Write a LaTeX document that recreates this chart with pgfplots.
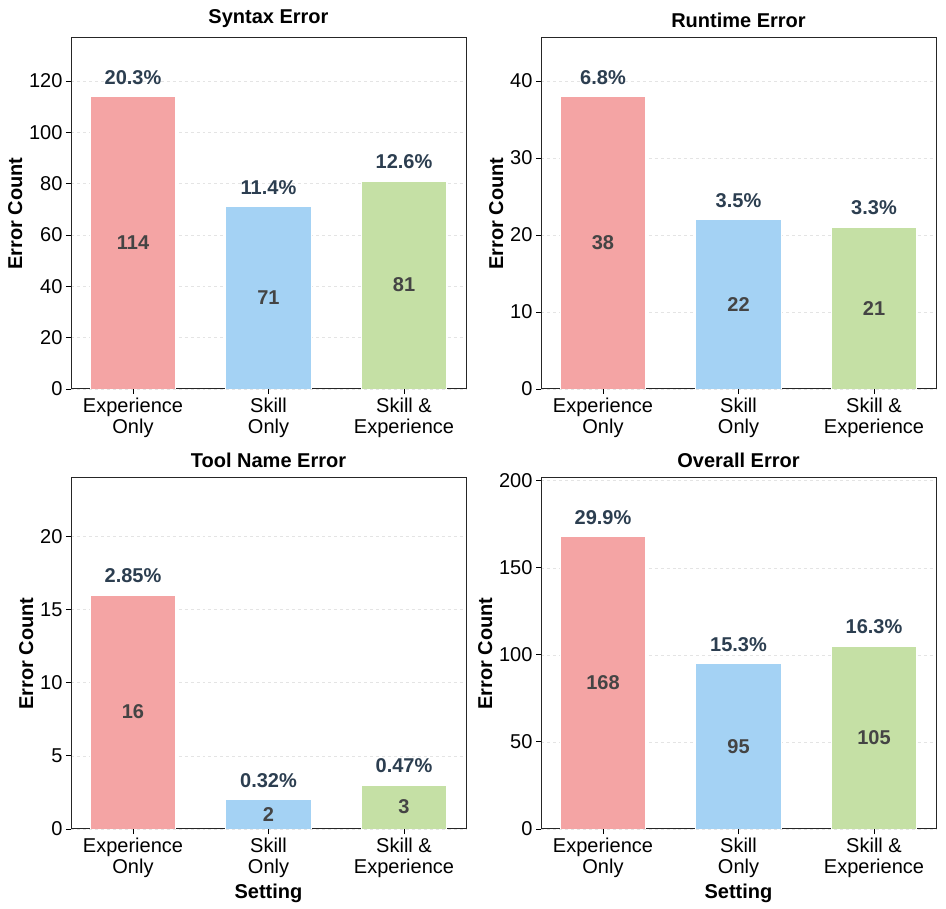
\documentclass[border=0pt]{standalone}
\usepackage{pgfplots}
\pgfplotsset{compat=1.18}
\usepackage{pgfplotstable}
\usepackage{fontspec}
\setmainfont{Liberation Sans}

\definecolor{expc}{RGB}{244,164,164}
\definecolor{skic}{RGB}{164,210,244}
\definecolor{bothc}{RGB}{197,224,165}
\definecolor{pctc}{RGB}{44,62,80}
\definecolor{cntc}{RGB}{68,68,68}
\definecolor{gridc}{RGB}{228,228,228}

\newcommand{\ticksize}{\fontsize{20bp}{21.5bp}\selectfont}
\newcommand{\labsize}{\fontsize{20bp}{22bp}\selectfont}

% x: category index, y: error count, pct: share of errors
\pgfplotstableread{
x y pct
0 114 20.3
1 71 11.4
2 81 12.6
}\syntaxerr
\pgfplotstableread{
x y pct
0 38 6.8
1 22 3.5
2 21 3.3
}\runtimeerr
\pgfplotstableread{
x y pct
0 16 2.85
1 2 0.32
2 3 0.47
}\toolerr
\pgfplotstableread{
x y pct
0 168 29.9
1 95 15.3
2 105 16.3
}\overallerr

\pgfplotsset{
  panel/.style={
    scale only axis, width=395bp, height=351bp,
    anchor=south west,
    xmin=-0.4575, xmax=2.4575, ymin=0,
    xtick={0,1,2},
    xticklabels={{Experience\\Only},{Skill\\Only},{Skill \&\\Experience}},
    xticklabel style={align=center, font=\ticksize},
    yticklabel style={font=\ticksize},
    tick align=outside, tick pos=left,
    major tick length=5bp,
    every tick/.style={black, line width=0.9bp},
    axis line style={black!85, line width=1bp},
    ymajorgrids, grid style={gridc, dashed, line width=0.6bp},
    title style={font=\labsize\bfseries, yshift=1bp},
    label style={font=\labsize\bfseries},
    ylabel={Error Count},
    /pgf/number format/assume math mode=true,
  },
  bars/.style={ybar, bar width=0.63, bar shift=0pt, draw=white, line width=0.8bp},
}

\newcommand{\panel}[6]{%
  \begin{axis}[panel, at={#1}, title={#2}, ymax=#4, ytick distance=#5, xlabel={#6}]
    \addplot[bars, fill=expc, restrict x to domain=-0.5:0.5] table[x=x, y=y] {#3};
    \addplot[bars, fill=skic, restrict x to domain=0.5:1.5] table[x=x, y=y] {#3};
    \addplot[bars, fill=bothc, restrict x to domain=1.5:2.5] table[x=x, y=y] {#3};
    \addplot[draw=none, mark=none, nodes near coords={\pgfplotspointmeta\%},
      point meta=explicit symbolic,
      nodes near coords style={anchor=south, yshift=12bp, inner sep=0pt,
        font=\ticksize\bfseries, text=pctc}]
      table[x=x, y=y, meta=pct] {#3};
    \addplot[draw=none, mark=none, nodes near coords,
      point meta=explicit symbolic,
      nodes near coords style={anchor=center, inner sep=0pt,
        font=\ticksize\bfseries, text=cntc}]
      table[x=x, y expr=\thisrow{y}/2, meta=y] {#3};
  \end{axis}}

\begin{document}
\begin{tikzpicture}
  \useasboundingbox (0,0) rectangle (946bp,909bp);
  \panel{(71bp,520bp)}{Syntax Error}{\syntaxerr}{136.8}{20}{}
  \panel{(541bp,520bp)}{Runtime Error}{\runtimeerr}{45.6}{10}{}
  \panel{(71bp,80bp)}{Tool Name Error}{\toolerr}{24}{5}{Setting}
  \panel{(541bp,80bp)}{Overall Error}{\overallerr}{201.6}{50}{Setting}
\end{tikzpicture}
\end{document}
